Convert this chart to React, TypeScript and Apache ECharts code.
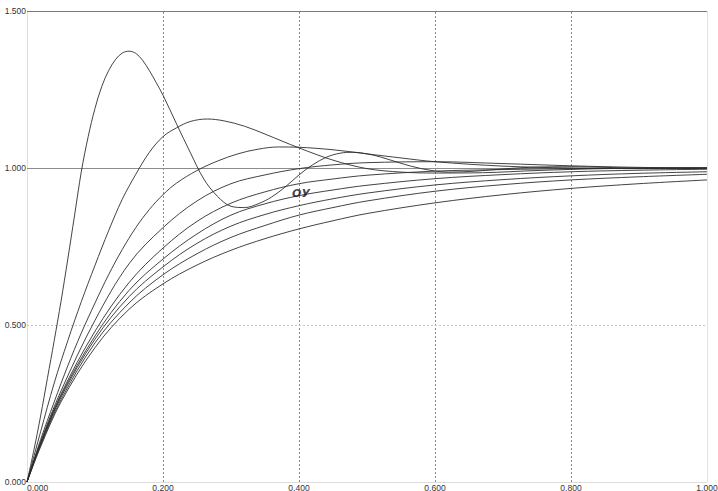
import React, { useEffect, useRef } from "react";
import * as echarts from "echarts";

// time samples
const T_A = [0, 0.01, 0.02, 0.03, 0.04, 0.05, 0.06, 0.07, 0.08, 0.09, 0.1, 0.11, 0.12, 0.13, 0.14, 0.15, 0.16, 0.17, 0.18, 0.19, 0.2, 0.22, 0.24, 0.26, 0.28, 0.3, 0.32, 0.34, 0.36, 0.38, 0.4, 0.42, 0.44, 0.46, 0.48, 0.5, 0.52, 0.55, 0.58, 0.62, 0.66, 0.7, 0.75, 0.8, 0.85, 0.9, 1.0];
const V_A = [0, 0.1, 0.21, 0.33, 0.45, 0.575, 0.71, 0.85, 0.99, 1.1, 1.19, 1.26, 1.31, 1.345, 1.366, 1.372, 1.365, 1.343, 1.31, 1.272, 1.232, 1.14, 1.05, 0.965, 0.91, 0.878, 0.874, 0.886, 0.908, 0.94, 0.978, 1.01, 1.034, 1.047, 1.05, 1.045, 1.035, 1.015, 0.998, 0.987, 0.99, 0.997, 1.003, 1.004, 1.002, 1.0, 1.0];

const T_B = [0, 0.02, 0.04, 0.06, 0.08, 0.1, 0.12, 0.14, 0.16, 0.18, 0.2, 0.22, 0.24, 0.265, 0.29, 0.32, 0.35, 0.4, 0.45, 0.5, 0.55, 0.6, 0.67, 0.75, 0.85, 1.0];
const V_B = [0, 0.16, 0.315, 0.45, 0.575, 0.69, 0.8, 0.9, 0.98, 1.05, 1.1, 1.128, 1.148, 1.156, 1.15, 1.133, 1.108, 1.064, 1.025, 0.998, 0.987, 0.984, 0.985, 0.992, 0.998, 1.0];

const T_C = [0, 0.02, 0.04, 0.06, 0.08, 0.1, 0.12, 0.14, 0.16, 0.18, 0.2, 0.22, 0.25, 0.28, 0.31, 0.34, 0.37, 0.4, 0.45, 0.5, 0.55, 0.6, 0.7, 0.8, 0.9, 1.0];
const V_C = [0, 0.135, 0.255, 0.37, 0.475, 0.57, 0.66, 0.74, 0.81, 0.868, 0.915, 0.952, 0.992, 1.022, 1.045, 1.06, 1.067, 1.066, 1.058, 1.045, 1.032, 1.02, 1.006, 1.0, 0.998, 0.999];

const T_GRID = [0, 0.02, 0.05, 0.1, 0.15, 0.2, 0.25, 0.3, 0.35, 0.4, 0.45, 0.5, 0.6, 0.7, 0.8, 0.9, 1.0];
const V_D = [0, 0.128, 0.29, 0.515, 0.695, 0.81, 0.895, 0.95, 0.978, 0.998, 1.01, 1.017, 1.02, 1.014, 1.007, 1.002, 1.0];
const V_E = [0, 0.124, 0.28, 0.48, 0.635, 0.745, 0.83, 0.888, 0.924, 0.95, 0.965, 0.977, 0.99, 0.995, 0.998, 0.999, 1.0];
const V_F = [0, 0.122, 0.275, 0.465, 0.61, 0.71, 0.79, 0.85, 0.886, 0.912, 0.93, 0.945, 0.966, 0.979, 0.988, 0.993, 0.996];
const V_G = [0, 0.12, 0.27, 0.455, 0.59, 0.685, 0.76, 0.815, 0.852, 0.88, 0.902, 0.92, 0.946, 0.963, 0.975, 0.983, 0.988];
const V_H = [0, 0.117, 0.262, 0.443, 0.57, 0.66, 0.727, 0.779, 0.817, 0.85, 0.874, 0.895, 0.926, 0.947, 0.962, 0.972, 0.98];
const V_I = [0, 0.112, 0.255, 0.428, 0.55, 0.631, 0.691, 0.738, 0.775, 0.806, 0.832, 0.855, 0.889, 0.915, 0.935, 0.95, 0.962];

const CURVES: [number[], number[]][] = [
  [T_A, V_A],
  [T_B, V_B],
  [T_C, V_C],
  [T_GRID, V_D],
  [T_GRID, V_E],
  [T_GRID, V_F],
  [T_GRID, V_G],
  [T_GRID, V_H],
  [T_GRID, V_I],
];

const X_TICKS = [0.2, 0.4, 0.6, 0.8];
const ANNOTATION = { text: "ОУ", t: 0.403, v: 0.92 };

export default function App() {
  const ref = useRef<HTMLDivElement>(null);
  useEffect(() => {
    const chart = echarts.init(ref.current!, undefined, { renderer: "svg" });
    const labelFont = { fontFamily: "Liberation Sans", fontSize: 8.5, color: "#333" };
    const gridLines: any[] = [
      ...X_TICKS.map((x) => ({ xAxis: x, lineStyle: { color: "#8a8a8a", type: [2, 2], width: 1 } })),
      { xAxis: 1.0, lineStyle: { color: "#e2e2e2", type: "solid", width: 1 } },
      { yAxis: 0.5, lineStyle: { color: "#c8c8c8", type: [2, 2], width: 1 } },
      { yAxis: 1.0, lineStyle: { color: "#8c8c8c", type: "solid", width: 1 } },
      { yAxis: 1.5, lineStyle: { color: "#7a7a7a", type: "solid", width: 1 } },
    ];
    const series: any[] = CURVES.map(([ts, vs], i) => ({
      type: "line",
      data: ts.map((t, k) => [t, vs[k]]),
      showSymbol: false,
      smooth: 0.35,
      lineStyle: { color: "#2e2e2e", width: 0.9 },
      z: 3,
      ...(i === 0
        ? {
            markLine: {
              silent: true,
              symbol: ["none", "none"],
              label: { show: false },
              animation: false,
              data: gridLines,
              z: 1,
            },
          }
        : {}),
    }));
    series.push({
      type: "scatter",
      data: [[ANNOTATION.t, ANNOTATION.v]],
      symbolSize: 0,
      label: {
        show: true,
        position: "inside",
        formatter: ANNOTATION.text,
        fontFamily: "DejaVu Sans",
        fontSize: 11,
        fontStyle: "italic",
        fontWeight: "bold",
        color: "#111",
      },
      z: 5,
    });
    chart.setOption({
      animation: false,
      backgroundColor: "#ffffff",
      grid: { left: 27, right: 11, top: 11, bottom: 9, containLabel: false, outerBoundsMode: "none" },
      xAxis: {
        type: "value",
        min: 0,
        max: 1,
        interval: 0.2,
        axisLine: { show: true, lineStyle: { color: "#dedede", width: 1 } },
        axisTick: { show: false },
        splitLine: { show: false },
        axisLabel: {
          ...labelFont,
          margin: 1,
          formatter: (v: number) => v.toFixed(3),
          alignMinLabel: "left",
          alignMaxLabel: "center",
        },
      },
      yAxis: {
        type: "value",
        min: 0,
        max: 1.5,
        interval: 0.5,
        axisLine: { show: true, lineStyle: { color: "#dedede", width: 1 } },
        axisTick: { show: false },
        splitLine: { show: false },
        axisLabel: {
          ...labelFont,
          margin: 1,
          formatter: (v: number) => v.toFixed(3),
        },
      },
      series,
    });
    return () => chart.dispose();
  }, []);
  return (
    <div
      ref={ref}
      style={{ position: "fixed", left: 0, top: 0, width: 718, height: 491, background: "#fff" }}
    />
  );
}
